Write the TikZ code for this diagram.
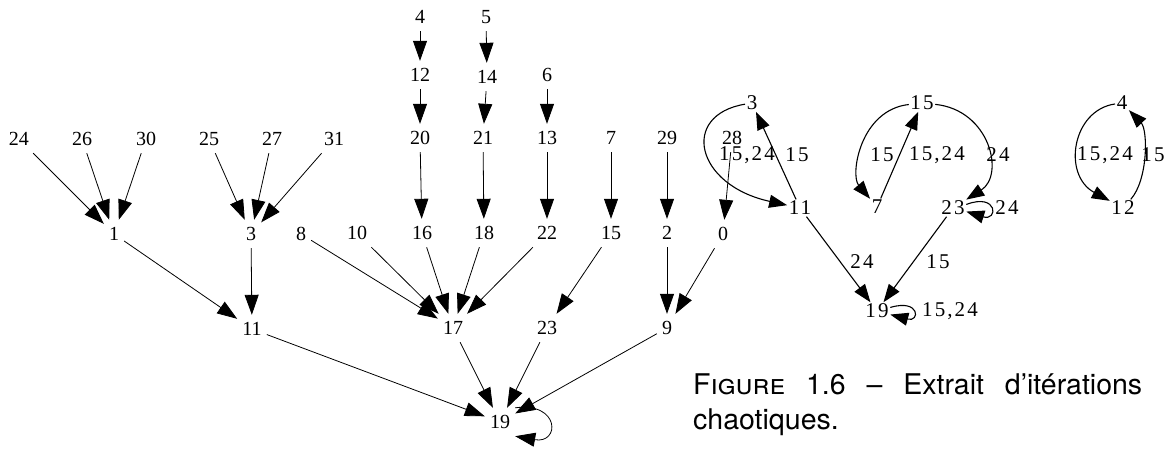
\documentclass[tikz,border=0pt]{standalone}
\usepackage{fontspec}
\usetikzlibrary{arrows.meta,calc}
\newfontfamily\treefont{Liberation Serif}
\newfontfamily\graphfont[LetterSpace=10]{Liberation Serif}
\newfontfamily\capfont{TeX Gyre Heros}
\begin{document}
\begin{tikzpicture}[x=1pt,y=-1pt,
  tn/.style={font=\treefont\fontsize{20}{24}\selectfont, inner xsep=5pt, inner ysep=0pt, minimum height=28pt},
  rn/.style={font=\graphfont\fontsize{21}{25}\selectfont, inner sep=1.5pt},
  lab/.style={font=\graphfont\fontsize{21}{25}\selectfont, inner sep=0pt},
  tedge/.style={line width=0.8pt, -{Triangle[length=20pt,width=14pt]}},
  redge/.style={line width=1.1pt, -{Triangle[length=18pt,width=13pt]}}]
\useasboundingbox (0,0) rectangle (1169,448);

% ---- forest of iterations ----
\node[tn] (t4)  at (420,17) {4};
\node[tn] (t5)  at (486,17) {5};
\node[tn] (t12) at (420,75) {12};
\node[tn] (t14) at (487,77) {14};
\node[tn] (t6)  at (547,75) {6};

\node[tn] (t24) at (19,139)  {24};
\node[tn] (t26) at (82,139)  {26};
\node[tn] (t30) at (146,139) {30};
\node[tn] (t25) at (209,139) {25};
\node[tn] (t27) at (272,139) {27};
\node[tn] (t31) at (334,139) {31};
\node[tn] (t20) at (420,138) {20};
\node[tn] (t21) at (483,138) {21};
\node[tn] (t13) at (547,138) {13};
\node[tn] (t7)  at (611,138) {7};
\node[tn] (t29) at (667,138) {29};
\node[tn] (t28) at (732,138) {28};

\node[tn] (t1)  at (114,234) {1};
\node[tn] (t3)  at (251,234) {3};
\node[tn] (t8)  at (301,234) {8};
\node[tn] (t10) at (357,233) {10};
\node[tn] (t16) at (422,233) {16};
\node[tn] (t18) at (484,233) {18};
\node[tn] (t22) at (547,233) {22};
\node[tn] (t15) at (611,233) {15};
\node[tn] (t2)  at (667,233) {2};
\node[tn] (t0)  at (723,234) {0};

\node[tn] (t11) at (252,329) {11};
\node[tn] (t17) at (453,328) {17};
\node[tn] (t23) at (547,328) {23};
\node[tn] (t9)  at (667,328) {9};
\node[tn] (t19) at (500,422) {19};

\foreach \a/\b in {t4/t12, t12/t20, t5/t14, t14/t21, t6/t13,
                   t24/t1, t26/t1, t30/t1, t25/t3, t27/t3, t31/t3,
                   t20/t16, t21/t18, t13/t22, t7/t15, t29/t2, t28/t0,
                   t1/t11, t3/t11, t8/t17, t10/t17, t16/t17, t18/t17, t22/t17,
                   t15/t23, t2/t9, t0/t9,
                   t11/t19, t17/t19, t23/t19, t9/t19}
  \draw[tedge] (\a) -- (\b);
\draw[tedge] (t19.north east) .. controls +(45,-6) and +(45,8) .. (t19.south east);

% ---- transition graph ----
\node[rn] (r3)  at (752,103)  {3};
\node[rn] (r11) at (800,208)  {11};
\node[rn] (r15) at (922,103)  {15};
\node[rn] (r7)  at (877,207)  {7};
\node[rn] (r23) at (953,208)  {23};
\node[rn] (r19) at (877,311)  {19};
\node[rn] (r4)  at (1122,103) {4};
\node[rn] (r12) at (1123,208) {12};

\draw[redge] (r3) .. controls (680,115) and (695,185) .. (r11);
\draw[redge] (r11) -- (r3);
\draw[redge] (r11) -- (r19);
\draw[redge] (r15) .. controls (860,110) and (850,175) .. (r7);
\draw[redge] (r7) -- (r15);
\draw[redge] (r15) .. controls (990,110) and (1005,175) .. (r23);
\draw[redge] (r23.15) .. controls +(32,-12) and +(32,10) .. (r23.-15);
\draw[redge] (r23) -- (r19);
\draw[redge] (r19.15) .. controls +(30,-9) and +(30,8) .. (r19.-15);
\draw[redge] (r4) .. controls (1072,110) and (1062,175) .. (r12);
\draw[redge] (r12) .. controls (1148,180) and (1148,130) .. (r4);

\node[lab] (l1)  at (747,155)  {15,24};
\node[lab] (l2)  at (797,155)  {15};
\node[lab] (l3)  at (862,262)  {24};
\node[lab] (l4)  at (882,155)  {15};
\node[lab] (l5)  at (937,155)  {15,24};
\node[lab] (l6)  at (998,155)  {24};
\node[lab] (l7)  at (1007,208) {24};
\node[lab] (l8)  at (938,262)  {15};
\node[lab] (l9)  at (950,311)  {15,24};
\node[lab] (l10) at (1105,155) {15,24};
\node[lab] (l11) at (1153,155) {15};

% ---- caption ----
\node[anchor=north west, text width=449pt, align=justify, inner sep=0pt,
      font=\capfont\fontsize{28.5}{35}\selectfont] (cap) at (693,374)
  {\hyphenpenalty=10000 \textsc{Figure} 1.6 – Extrait d’itérations chaotiques.};
\end{tikzpicture}
\end{document}
